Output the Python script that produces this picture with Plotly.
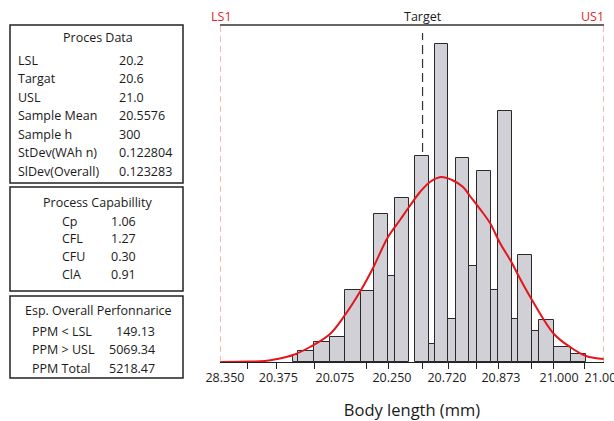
import plotly.graph_objects as go

# ---------------- data ----------------
LSL = 20.2
USL = 21.0
target_pos = 20.622

bin_left = [20.3527, 20.3615, 20.3965, 20.4292, 20.4604, 20.4931, 20.5208, 20.5506,
            20.5646, 20.6052, 20.6354, 20.6479, 20.6756, 20.6910, 20.7194, 20.7344,
            20.7640, 20.7798, 20.8077, 20.8215, 20.8506, 20.8652, 20.8965, 20.9302]
bin_right = [20.3615, 20.3965, 20.4292, 20.4604, 20.4931, 20.5208, 20.5506, 20.5646,
             20.5938, 20.6354, 20.6479, 20.6756, 20.6910, 20.7194, 20.7344, 20.7640,
             20.7798, 20.8077, 20.8215, 20.8506, 20.8652, 20.8965, 20.9302, 20.9615]
bin_count = [0.7, 1.1, 2.0, 2.5, 7.2, 7.1, 14.8, 8.6,
             16.4, 20.6, 1.8, 31.8, 4.3, 20.4, 9.6, 19.1,
             7.2, 25.1, 4.3, 10.7, 3.1, 4.2, 1.5, 0.8]

curve_x = [20.2000, 20.2625, 20.2938, 20.3188, 20.3521, 20.3875, 20.4292, 20.4604,
           20.4938, 20.5188, 20.5500, 20.5750, 20.5938, 20.6167, 20.6375, 20.6604,
           20.6833, 20.7063, 20.7208, 20.7479, 20.7625, 20.7833, 20.8083, 20.8188,
           20.8500, 20.8958, 20.9292, 20.9625, 21.0000]
curve_y = [0.0, 0.05, 0.1, 0.3, 0.7, 1.5, 2.8, 4.7,
           7.2, 9.4, 12.5, 14.2, 15.5, 17.0, 18.0, 18.5,
           18.2, 17.5, 16.6, 14.9, 13.9, 11.9, 9.9, 8.9,
           6.2, 2.8, 1.5, 0.6, 0.3]

tick_pos = [20.2104, 20.3215, 20.4396, 20.5583, 20.6729, 20.7854, 20.9063, 21.0]
tick_text = ["28.350", "20.375", "20.075", "20.250", "20.720", "20.873", "21.000", "21.000"]
minor_pos = [20.2569, 20.3181, 20.3965, 20.5056, 20.5506, 20.6223, 20.6756,
             20.7348, 20.7798, 20.8494, 20.8958, 20.9604]

process_labels = ["LSL", "Targat", "USL", "Sample Mean", "Sample h", "StDev(WAh n)", "SlDev(Overall)"]
process_values = ["20.2", "20.6", "21.0", "20.5576", "300", "0.122804", "0.123283"]
cap_labels = ["Cp", "CFL", "CFU", "ClA"]
cap_values = ["1.06", "1.27", "0.30", "0.91"]
perf_labels = ["PPM < LSL", "PPM > USL", "PPM Total"]
perf_values = ["149.13", "5069.34", "5218.47"]

# ---------------- figure ----------------
W, H = 614, 421
ML, MR, MT, MB = 220, 10, 25, 59
PW, PH = W - ML - MR, H - MT - MB


def px(x):
    return (x - ML) / PW


def py(y):
    return (H - MB - y) / PH


FONT = "Open Sans"
TXT = "#1a1a1a"

centers = [(a + b) / 2 for a, b in zip(bin_left, bin_right)]
widths = [b - a for a, b in zip(bin_left, bin_right)]

fig = go.Figure()
fig.add_trace(go.Bar(x=centers, y=bin_count, width=widths,
                     marker=dict(color="#d0d0d6", line=dict(color="#2a2a2a", width=1)),
                     showlegend=False, hoverinfo="skip"))
fig.add_trace(go.Scatter(x=curve_x, y=curve_y, mode="lines",
                         line=dict(color="#e3161c", width=2, shape="spline"),
                         showlegend=False, hoverinfo="skip"))

shapes = []
for v in (LSL, USL):
    shapes.append(dict(type="line", xref="x", yref="paper", x0=v, x1=v, y0=0, y1=1,
                       line=dict(color="#f08a8a", width=1.2, dash="6px,4px"), layer="above"))
shapes.append(dict(type="line", xref="x", yref="paper", x0=target_pos, x1=target_pos,
                   y0=0, y1=py(33), line=dict(color="#333333", width=1.2, dash="9px,5px"),
                   layer="below"))
shapes.append(dict(type="line", xref="paper", yref="paper", x0=0, x1=1, y0=1, y1=1,
                   line=dict(color="#333333", width=1.5)))
for (y0, y1) in [(25, 183), (187, 291), (296, 378)]:
    shapes.append(dict(type="rect", xref="paper", yref="paper", x0=px(10), x1=px(183),
                       y0=py(y1), y1=py(y0), line=dict(color="#222222", width=1.5)))

ann = []


def txt(x, y, s, anchor="left", size=12.5, color=TXT, xref="paper"):
    ann.append(dict(x=x, y=py(y), xref=xref, yref="paper", text=s, showarrow=False,
                    xanchor=anchor, yanchor="middle",
                    font=dict(family=FONT, size=size, color=color)))


txt(px(98), 37, "Proces Data", "center")
for i, (l, v) in enumerate(zip(process_labels, process_values)):
    yy = 60 + i * 18.5
    txt(px(16), yy, l)
    txt(px(117), yy, v)

txt(px(97), 202, "Process Capabillity", "center")
for i, (l, v) in enumerate(zip(cap_labels, cap_values)):
    yy = 221 + i * 17.8
    txt(px(60), yy, l)
    txt(px(109), yy, v)

txt(px(98), 310, "Esp. Overall Perfonnarice", "center")
for i, (l, v) in enumerate(zip(perf_labels, perf_values)):
    yy = 331 + i * 18.5
    txt(px(30), yy, l)
    txt(px(157), yy, v, "right")

txt(px(221.5), 16, "LS1", "center", color="#e0262c")
txt(px(606), 16, "US1", "right", color="#e0262c")
txt(target_pos, 16, "Target", "center", xref="x")

fig.update_layout(
    width=W, height=H,
    margin=dict(l=ML, r=MR, t=MT, b=MB, autoexpand=False),
    paper_bgcolor="white", plot_bgcolor="white",
    bargap=0,
    shapes=shapes, annotations=ann,
    xaxis=dict(range=[LSL, USL], tickmode="array", tickvals=tick_pos, ticktext=tick_text,
               ticks="", showgrid=False, zeroline=False, showline=True, automargin=False,
               ticklabeloverflow="allow", ticklabelstandoff=4,
               linecolor="#222222", linewidth=1.2,
               tickfont=dict(family=FONT, size=12.5, color=TXT),
               minor=dict(tickmode="array", tickvals=minor_pos, ticks="outside",
                          ticklen=6, tickcolor="#222222", tickwidth=1.2, showgrid=False),
               title=dict(text="Body length (mm)", font=dict(family=FONT, size=16.5, color=TXT),
                          standoff=19)),
    yaxis=dict(range=[0, 33.7], visible=False, showgrid=False, zeroline=False,
               automargin=False),
    font=dict(family=FONT),
)

fig.write_html("out.html", config={"displayModeBar": False},
               post_script="document.body.style.margin='0';document.body.style.overflow='hidden';")
